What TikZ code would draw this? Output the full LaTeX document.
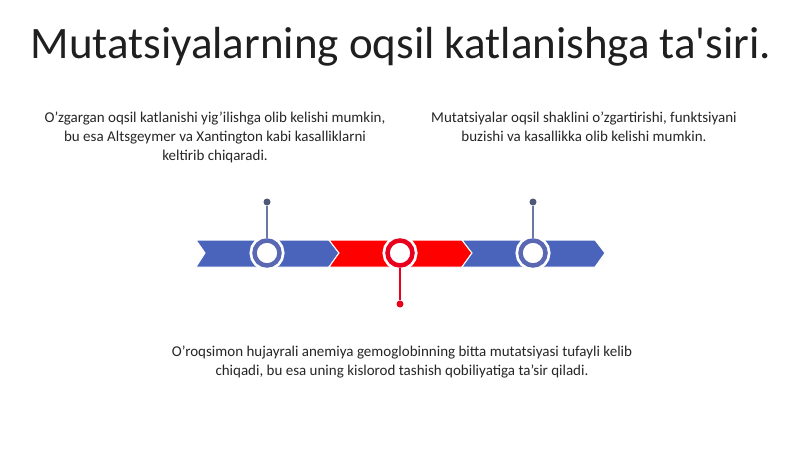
\documentclass[tikz,border=0pt]{standalone}
\usepackage{fontspec}
\setmainfont{Carlito}
\definecolor{bandblue}{HTML}{4A64BC}
\definecolor{ringblue}{HTML}{5A68B4}
\definecolor{pinblue}{HTML}{6A78A8}
\definecolor{dotblue}{HTML}{4E5878}
\definecolor{bandred}{HTML}{FF0000}
\definecolor{ringred}{HTML}{E8001E}
\tikzset{
  ring/.style={circle,draw=#1,line width=4.5pt,fill=white,minimum size=25pt,inner sep=0pt,
    preaction={draw=white,line width=10pt}},
  pin/.style={circle,fill=#1,minimum size=7pt,inner sep=0pt},
  note/.style={align=center,font=\fontsize{15}{19}\selectfont,text=black!85}
}
\begin{document}
\begin{tikzpicture}[x=1pt,y=-1pt]
      \useasboundingbox[fill=white] (0,0) rectangle (800,449);
      \node[font=\fontsize{45}{50}\selectfont,text=black!88] (title) at (401,47) {Mutatsiyalarning oqsil katlanishga ta\textquotesingle siri.};
      % band
      \fill[bandblue,draw=white,line width=1pt] (196,240) -- (329,240) -- (339,253) -- (329,267) -- (196,267) -- (205,253) -- cycle;
      \fill[bandred,draw=white,line width=1pt] (329,240) -- (462,240) -- (472,253) -- (462,267) -- (329,267) -- (339,253) -- cycle;
      \fill[bandblue,draw=white,line width=1pt] (462,240) -- (595,240) -- (605,253) -- (595,267) -- (462,267) -- (472,253) -- cycle;
      \node[pin=dotblue] (d1) at (267,202) {};
      \node[pin=ringred] (d2) at (400,304) {};
      \node[pin=dotblue] (d3) at (533,202) {};
      \node[ring=ringblue] (c1) at (267,253) {};
      \node[ring=ringred] (c2) at (400,253) {};
      \node[ring=ringblue] (c3) at (533,253) {};
      \draw[pinblue,line width=1.2pt] (d1) -- (c1.north);
      \draw[ringred,line width=1.2pt] (d2) -- (c2.south);
      \draw[pinblue,line width=1.2pt] (d3) -- (c3.north);
      \node[note] (t1) at (215,137) {O’zgargan oqsil katlanishi yig’ilishga olib kelishi mumkin,\\bu esa Altsgeymer va Xantington kabi kasalliklarni\\keltirib chiqaradi.};
      \node[note] (t3) at (584,127) {Mutatsiyalar oqsil shaklini o’zgartirishi, funktsiyani\\buzishi va kasallikka olib kelishi mumkin.};
      \node[note] (t2) at (402,362) {O’roqsimon hujayrali anemiya gemoglobinning bitta mutatsiyasi tufayli kelib\\chiqadi, bu esa uning kislorod tashish qobiliyatiga ta’sir qiladi.};
\end{tikzpicture}
\end{document}
